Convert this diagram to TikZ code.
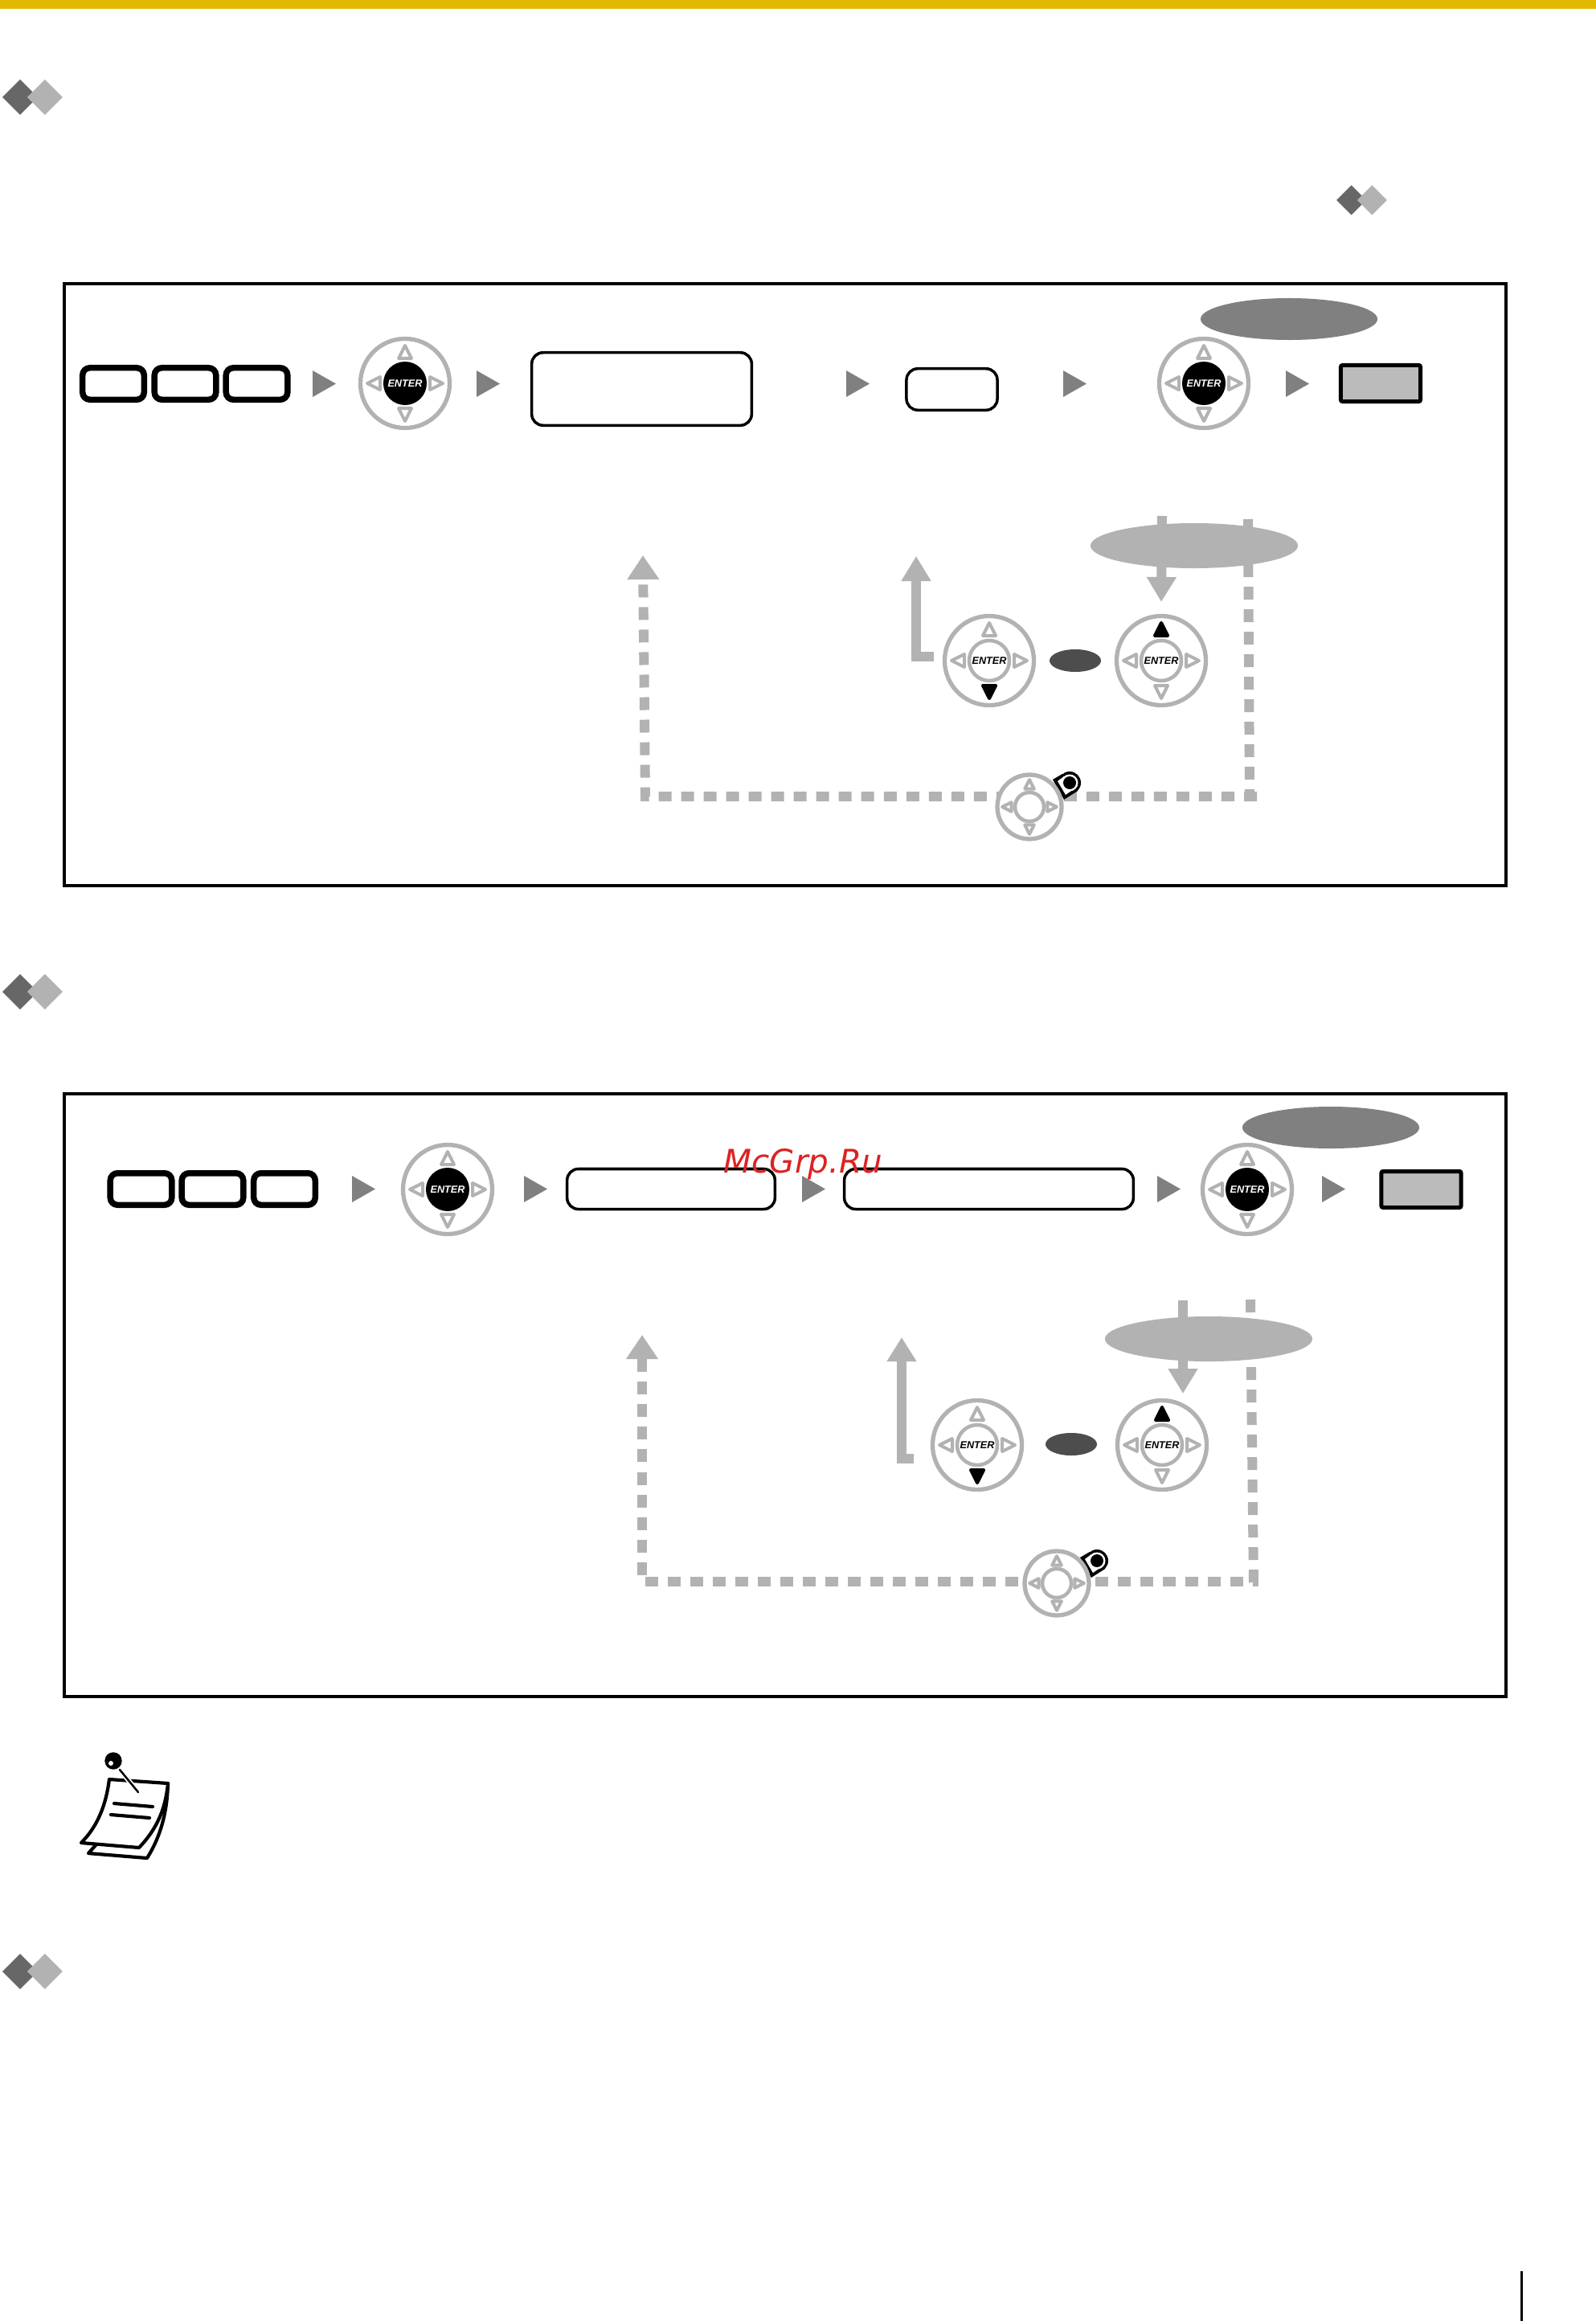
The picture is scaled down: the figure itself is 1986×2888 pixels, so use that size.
\documentclass[tikz,border=0pt]{standalone}
\usepackage{fontspec}
\usetikzlibrary{arrows.meta,shapes.geometric}
\newfontfamily\enterfont{Liberation Sans}
\newfontfamily\markfont{DejaVu Sans}
\definecolor{baryellow}{HTML}{E0B800}
\definecolor{ringgrey}{HTML}{B2B2B2}
\definecolor{stepgrey}{HTML}{808080}
\definecolor{ovaldark}{HTML}{4D4D4D}
\definecolor{diadark}{HTML}{676767}
\definecolor{boxgrey}{HTML}{BBBBBB}
\definecolor{markred}{HTML}{DD2222}
\tikzset{
  framebox/.style={draw=black, line width=0.04cm},
  keycap/.style={draw=black, fill=white, line width=0.075cm, rounded corners=0.09cm, minimum width=0.765cm, minimum height=0.395cm, inner sep=0},
  lcdbox/.style={draw=black, fill=white, line width=0.035cm, rounded corners=0.14cm, inner sep=0},
  toneBox/.style={draw=black, fill=boxgrey, line width=0.05cm, rounded corners=0.02cm, inner sep=0, minimum width=0.99cm, minimum height=0.45cm},
  padring/.style={circle, draw=ringgrey, fill=white, line width=0.053cm, minimum size=1.11cm, inner sep=0, transform shape},
  padcore/.style={circle, draw=ringgrey, fill=white, line width=0.045cm, minimum size=0.50cm, inner sep=0, transform shape},
  padblack/.style={circle, fill=black, minimum size=0.54cm, inner sep=0, text=white, transform shape},
  padtip/.style={draw=ringgrey, fill=white, line width=0.04cm, line join=round},
  padtipon/.style={draw=black, fill=black, line width=0.04cm, line join=round},
  ovalbig/.style={ellipse, fill=stepgrey, minimum width=2.20cm, minimum height=0.52cm, inner sep=0},
  ovallight/.style={ellipse, fill=ringgrey, minimum width=2.58cm, minimum height=0.56cm, inner sep=0},
  ovalsmall/.style={ellipse, fill=ovaldark, minimum width=0.64cm, minimum height=0.28cm, inner sep=0},
  greyflow/.style={draw=ringgrey, line width=0.12cm, -{Triangle[length=0.31cm,width=0.35cm]}},
  greydash/.style={draw=ringgrey, line width=0.12cm, dash pattern=on 0.16cm off 0.12cm},
  greydashtip/.style={greydash, -{Triangle[length=0.30cm,width=0.38cm]}},
  noteline/.style={draw=black, line width=0.042cm, line cap=round, line join=round},
}
% one pad: name, centre, scale, centre style, centre text
\newcommand{\navpad}[5]{
  \begin{scope}[shift={(#2)},scale=#3]
    \node[padring] (#1) at (0,0) {};
    \foreach \ang in {0,90,180,270}
      \draw[padtip,rotate=\ang] (0,-47) -- (-8,-31) -- (8,-31) -- cycle;
    \node[#4] (#1core) at (0,0) {\enterfont\bfseries\itshape\fontsize{3.6}{4}\selectfont #5};
  \end{scope}
}
\newcommand{\padon}[2]{\draw[padtipon,shift={(#1)},rotate=#2] (0,-47) -- (-8,-31) -- (8,-31) -- cycle;}
\newcommand{\steptip}[2]{\fill[stepgrey,shift={(#1,#2)}] (0,-16.5) -- (29,0) -- (0,16.5) -- cycle;}
\newcommand{\diapair}[3]{
  \fill[diadark,shift={(#1,#2)}] (-#3,0) -- (0,-#3) -- (#3,0) -- (0,#3) -- cycle;
  \fill[ringgrey,shift={(#1+1.4*#3,#2)}] (-#3,0) -- (0,-#3) -- (#3,0) -- (0,#3) -- cycle;
}
\newcommand{\holdtag}[1]{
  \begin{scope}[shift={(#1)}]
    \fill[black] (0,0) circle (14);
    \fill[black] (-21,-4) -- (-7,21) -- (10,10) -- (-9,-11) -- cycle;
    \fill[white] (-15,-2) -- (-5,15) -- (5,8) -- (-7,-8) -- cycle;
    \fill[white] (0,0) circle (10.5);
    \fill[black] (0,0) circle (8);
  \end{scope}
}
\begin{document}
\begin{tikzpicture}[x=0.01cm,y=-0.01cm]  % page in pixels, y going down
    \useasboundingbox (0,0) rectangle (1986,2888);
    \fill[baryellow] (0,0) rectangle (1986,11);
    \diapair{25}{121}{22}
    \diapair{25}{1234}{22}
    \diapair{25}{2453}{22}
    \diapair{1681.5}{249}{18.5}
    \draw[black, line width=0.03cm] (1893,2826) -- (1893,2888);

    % first frame
    \draw[framebox] (80,353) rectangle (1874,1102);
    \node[keycap] (ka) at (141,477.5) {};
    \node[keycap] (kb) at (230.5,477.5) {};
    \node[keycap] (kc) at (319.5,477.5) {};
    \steptip{389}{477.5}
    \navpad{pada}{504,477}{1}{padblack}{ENTER}
    \steptip{593}{477.5}
    \node[lcdbox, minimum width=2.735cm, minimum height=0.905cm] (lcda) at (798.5,484) {};
    \steptip{1053}{477.5}
    \node[lcdbox, minimum width=1.13cm, minimum height=0.515cm] (lcdb) at (1184.5,484.5) {};
    \steptip{1323}{477.5}
    \navpad{padb}{1498,477}{1}{padblack}{ENTER}
    \node[ovalbig] (ovala) at (1604,397) {};
    \steptip{1600}{477.5}
    \node[toneBox] (tonea) at (1718,477) {};

    \coordinate (dropa) at (1446,642);
    \coordinate (droptipa) at (1445,749);
    \draw[greyflow] (dropa) -- (droptipa);
    \coordinate (dashtopa) at (1553,646);
    \coordinate (dashbota) at (1555,997);
    \draw[greydash] (dashtopa) -- (dashbota);
    \coordinate (runra) at (1564,991);
    \coordinate (runla) at (803,991);
    \coordinate (runtipa) at (800,691);
    \draw[greydashtip] (runra) -- (runla) -- (runtipa);
    \node[ovallight] (ovalb) at (1486,679) {};
    \coordinate (backa) at (1162,817);
    \coordinate (backca) at (1140,817);
    \coordinate (backtipa) at (1140,692);
    \draw[greyflow] (backa) -- (backca) -- (backtipa);
    \navpad{padc}{1231,822}{1}{padcore}{ENTER}
    \padon{1231,822}{180}
    \node[ovalsmall] (ovalc) at (1338,822) {};
    \navpad{padd}{1445,822}{1}{padcore}{ENTER}
    \padon{1445,822}{0}
    \holdtag{1331,974}
    \navpad{pade}{1281,1004}{0.72}{padcore}{}

    % second frame
    \draw[framebox] (80,1361) rectangle (1874,2111);
    \node[keycap] (kd) at (175.5,1479.5) {};
    \node[keycap] (ke) at (264.5,1479.5) {};
    \node[keycap] (kf) at (354,1479.5) {};
    \steptip{438}{1479.5}
    \navpad{padf}{557,1480}{1}{padblack}{ENTER}
    \steptip{652}{1479.5}
    \node[lcdbox, minimum width=2.585cm, minimum height=0.50cm] (lcdc) at (835,1479.5) {};
    \steptip{998}{1479.5}
    \node[lcdbox, minimum width=3.595cm, minimum height=0.50cm] (lcdd) at (1230.5,1479.5) {};
    \steptip{1440}{1479.5}
    \navpad{padg}{1552,1480}{1}{padblack}{ENTER}
    \node[ovalbig] (ovald) at (1656,1403) {};
    \steptip{1645}{1479.5}
    \node[toneBox] (toneb) at (1768.5,1480) {};

    \coordinate (dropb) at (1472,1618);
    \coordinate (droptipb) at (1472,1734);
    \draw[greyflow] (dropb) -- (droptipb);
    \coordinate (dashtopb) at (1556,1617);
    \coordinate (dashbotb) at (1560,1974);
    \draw[greydash] (dashtopb) -- (dashbotb);
    \coordinate (runrb) at (1566,1968);
    \coordinate (runlb) at (799,1968);
    \coordinate (runtipb) at (799,1661);
    \draw[greydashtip, dash phase=0.09cm] (runrb) -- (runlb) -- (runtipb);
    \node[ovallight] (ovale) at (1504,1666) {};
    \coordinate (backb) at (1137,1815);
    \coordinate (backcb) at (1122,1815);
    \coordinate (backtipb) at (1122,1661);
    \draw[greyflow, -{Triangle[length=0.30cm,width=0.35cm,sep=0.03cm]}] (backb) -- (backcb) -- (backtipb);
    \navpad{padh}{1216,1798}{1}{padcore}{ENTER}
    \padon{1216,1798}{180}
    \node[ovalsmall] (ovalf) at (1333,1797) {};
    \navpad{padi}{1446,1798}{1}{padcore}{ENTER}
    \padon{1446,1798}{0}
    \holdtag{1365,1942}
    \navpad{padj}{1315,1970}{0.72}{padcore}{}

    % note icon
    \draw[noteline, fill=white] (209,2219) .. controls (208,2255) and (200,2285) .. (183,2312) -- (110,2306) -- (119,2296);
    \draw[noteline, fill=white] (136,2214) -- (209,2219) .. controls (206,2250) and (196,2275) .. (173,2299) -- (101,2293) .. controls (122,2272) and (132,2245) .. (136,2214);
    \draw[noteline] (142,2244) -- (190,2248);
    \draw[noteline] (138,2258) -- (186,2262);
    \draw[draw=white, line width=0.06cm] (149,2202) -- (172,2230);
    \draw[noteline, line width=0.025cm] (149,2202) -- (172,2230);
    \fill[black] (141,2191) circle (10.7);
    \fill[white] (138,2194) circle (3);

    \node[anchor=base west, inner sep=0, text=markred] (mark) at (900,1459) {\markfont\itshape\fontsize{11.5}{13}\selectfont McGrp.Ru};
\end{tikzpicture}
\end{document}
